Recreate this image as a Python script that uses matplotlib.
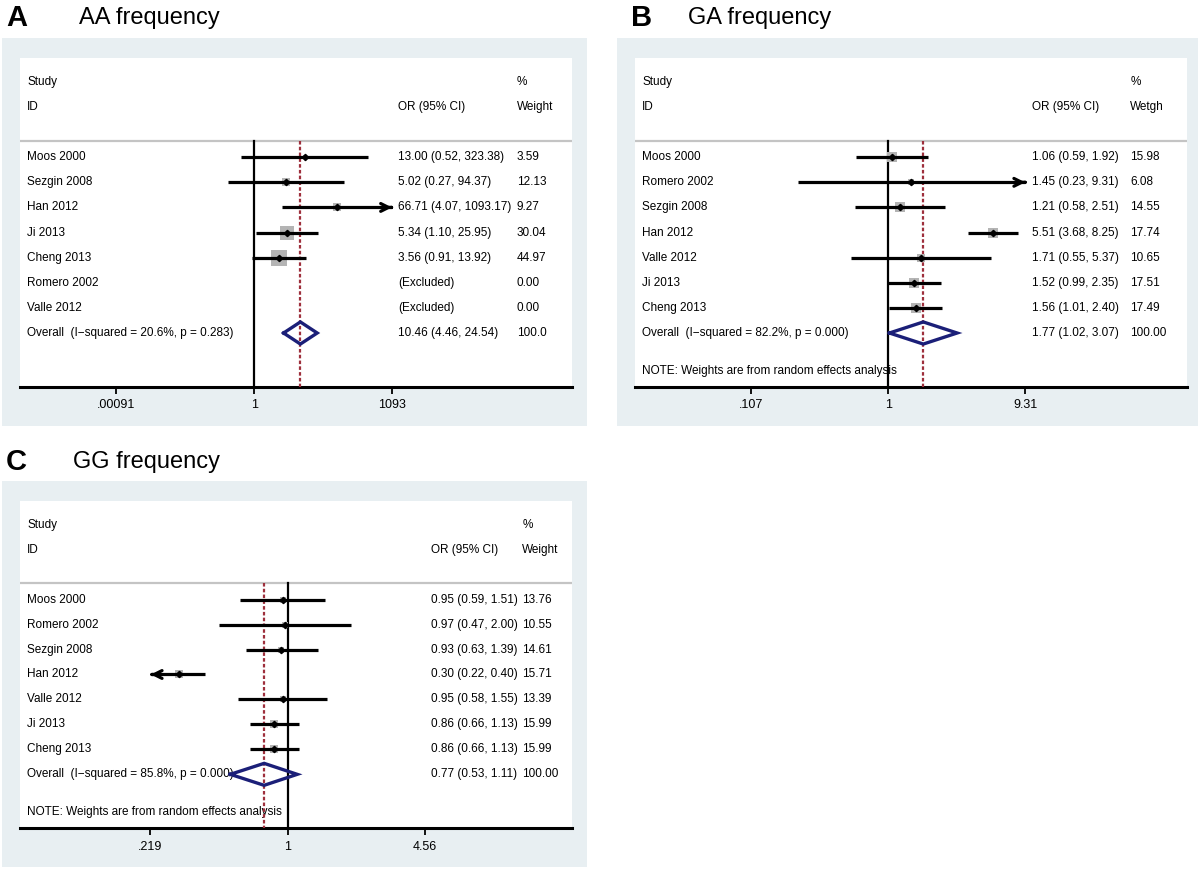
import numpy as np
import matplotlib.pyplot as plt
from matplotlib.patches import Rectangle

plt.rcParams['font.family'] = ['Liberation Sans', 'DejaVu Sans']

# ---- data -------------------------------------------------------------
# Panel A: AA frequency
aa_studies = ["Moos 2000", "Sezgin 2008", "Han 2012", "Ji 2013", "Cheng 2013",
              "Romero 2002", "Valle 2012"]
aa_or = [13.00, 5.02, 66.71, 5.34, 3.56, None, None]
aa_lo = [0.52, 0.27, 4.07, 1.10, 0.91, None, None]
aa_hi = [323.38, 94.37, 1093.17, 25.95, 13.92, None, None]
aa_weight = [3.59, 12.13, 9.27, 30.04, 44.97, 0.00, 0.00]
aa_overall = (10.46, 4.46, 24.54)
aa_overall_label = "Overall  (I\u2212squared = 20.6%, p = 0.283)"
aa_overall_weight = "100.0"
aa_ticks = [0.00091, 1, 1093]
aa_ticklabels = [".00091", "1", "1093"]

# Panel B: GA frequency
ga_studies = ["Moos 2000", "Romero 2002", "Sezgin 2008", "Han 2012", "Valle 2012",
              "Ji 2013", "Cheng 2013"]
ga_or = [1.06, 1.45, 1.21, 5.51, 1.71, 1.52, 1.56]
ga_lo = [0.59, 0.23, 0.58, 3.68, 0.55, 0.99, 1.01]
ga_hi = [1.92, 9.31, 2.51, 8.25, 5.37, 2.35, 2.40]
ga_weight = [15.98, 6.08, 14.55, 17.74, 10.65, 17.51, 17.49]
ga_overall = (1.77, 1.02, 3.07)
ga_overall_label = "Overall  (I\u2212squared = 82.2%, p = 0.000)"
ga_overall_weight = "100.00"
ga_ticks = [0.107, 1, 9.31]
ga_ticklabels = [".107", "1", "9.31"]

# Panel C: GG frequency
gg_studies = ["Moos 2000", "Romero 2002", "Sezgin 2008", "Han 2012", "Valle 2012",
              "Ji 2013", "Cheng 2013"]
gg_or = [0.95, 0.97, 0.93, 0.30, 0.95, 0.86, 0.86]
gg_lo = [0.59, 0.47, 0.63, 0.22, 0.58, 0.66, 0.66]
gg_hi = [1.51, 2.00, 1.39, 0.40, 1.55, 1.13, 1.13]
gg_weight = [13.76, 10.55, 14.61, 15.71, 13.39, 15.99, 15.99]
gg_overall = (0.77, 0.53, 1.11)
gg_overall_label = "Overall  (I\u2212squared = 85.8%, p = 0.000)"
gg_overall_weight = "100.00"
gg_ticks = [0.219, 1, 4.56]
gg_ticklabels = [".219", "1", "4.56"]

NOTE = "NOTE: Weights are from random effects analysis"

# ---- figure -----------------------------------------------------------
W, H = 1200, 869
fig = plt.figure(figsize=(W / 100, H / 100), dpi=100, facecolor='white')

BG = '#e8eff2'
NAVY = '#1b1f78'
RED = '#9e2f3c'
FS = 8.5


def px_rect(x0, y0, x1, y1):
    # pixel box (top-left origin) -> figure fraction [l, b, w, h]
    return [x0 / W, 1 - y1 / H, (x1 - x0) / W, (y1 - y0) / H]


def forest(box, bg, letter_xy, title_xy, letter, title, studies, ors, los, his,
           weights, overall, overall_label, overall_weight, ticks, ticklabels,
           tick_fracs, or_col, wt_col, wt_head, box_k, note=None):
    l, b, w, h = px_rect(*bg)
    fig.patches.append(Rectangle((l, b), w, h, transform=fig.transFigure,
                                 facecolor=BG, edgecolor='none', zorder=-10))
    fig.text(letter_xy[0] / W, 1 - letter_xy[1] / H, letter, fontsize=21,
             fontweight='bold', va='center', ha='left')
    fig.text(title_xy[0] / W, 1 - title_xy[1] / H, title, fontsize=17,
             va='center', ha='left')

    ax = fig.add_axes(px_rect(*box))
    ax.set_zorder(1)
    ax.set_facecolor('white')
    ax.set_xscale('log')
    # x limits so that outer ticks land on the wanted axes fractions
    L, Hh = np.log(ticks[0]), np.log(ticks[-1])
    u = (Hh - L) / (tick_fracs[1] - tick_fracs[0])
    ax.set_xlim(np.exp(L - tick_fracs[0] * u), np.exp(Hh + (1 - tick_fracs[1]) * u))
    ax.set_ylim(9.15, -3.95)
    for s in ['top', 'left', 'right']:
        ax.spines[s].set_visible(False)
    ax.spines['bottom'].set_linewidth(2.2)
    ax.set_yticks([])
    ax.set_xticks(ticks)
    ax.set_xticklabels(ticklabels)
    ax.minorticks_off()
    ax.tick_params(axis='x', length=5, width=1.3, labelsize=FS + 0.5, pad=4)

    tr = ax.get_yaxis_transform()  # x in axes fraction, y in data
    ax.text(0.013, -3, "Study", transform=tr, fontsize=FS, va='center')
    ax.text(0.013, -2, "ID", transform=tr, fontsize=FS, va='center')
    ax.text(or_col, -2, "OR (95% CI)", transform=tr, fontsize=FS, va='center')
    ax.text(wt_col, -3, "%", transform=tr, fontsize=FS, va='center')
    ax.text(wt_col, -2, wt_head, transform=tr, fontsize=FS, va='center')
    ax.axhline(-0.66, color='#c4c4c4', lw=1.6)

    ax.plot([1, 1], [-0.66, 9.15], color='black', lw=1.6, zorder=3)
    ax.plot([overall[0]] * 2, [-0.66, 9.15], color=RED, lw=1.6,
            ls=(0, (1.6, 1.0)), zorder=4)

    for i, name in enumerate(studies):
        ax.text(0.013, i, name, transform=tr, fontsize=FS, va='center')
        ax.text(wt_col, i, f"{weights[i]:.2f}", transform=tr, fontsize=FS, va='center')
        if ors[i] is None:
            ax.text(or_col, i, "(Excluded)", transform=tr, fontsize=FS, va='center')
            continue
        ax.text(or_col, i, f"{ors[i]:.2f} ({los[i]:.2f}, {his[i]:.2f})",
                transform=tr, fontsize=FS, va='center')
        side = box_k * np.sqrt(weights[i]) * 0.72
        ax.scatter([ors[i]], [i], marker='s', s=side ** 2, color='#b4b4b4',
                   linewidths=0, zorder=5)
        lo = max(los[i], ticks[0])
        hi = min(his[i], ticks[-1])
        left_arrow = los[i] <= ticks[0] * 1.01
        right_arrow = his[i] >= ticks[-1] * 0.99
        ax.plot([lo, hi], [i, i], color='black', lw=2.3, zorder=6,
                solid_capstyle='butt')
        if right_arrow:
            ax.annotate('', xy=(hi, i), xytext=(hi / 1.05, i),
                        arrowprops=dict(arrowstyle='->', lw=2.3, color='black',
                                        mutation_scale=14), zorder=6)
        if left_arrow:
            ax.annotate('', xy=(lo, i), xytext=(lo * 1.05, i),
                        arrowprops=dict(arrowstyle='->', lw=2.3, color='black',
                                        mutation_scale=14), zorder=6)
        ax.plot([ors[i]], [i], marker='D', ms=3.2, color='black', zorder=7)

    n = len(studies)
    ax.text(0.013, n, overall_label, transform=tr, fontsize=FS, va='center')
    ax.text(or_col, n, f"{overall[0]:.2f} ({overall[1]:.2f}, {overall[2]:.2f})",
            transform=tr, fontsize=FS, va='center')
    ax.text(wt_col, n, overall_weight, transform=tr, fontsize=FS, va='center')
    ax.plot([overall[1], overall[0], overall[2], overall[0], overall[1]],
            [n, n - 0.44, n, n + 0.44, n], color=NAVY, lw=2.4, zorder=8,
            solid_joinstyle='miter')
    if note:
        ax.text(0.013, n + 1.52, note, transform=tr, fontsize=FS, va='center')
    return ax


forest((20, 58, 572, 387), (2, 38, 587, 426), (6, 18), (79, 18), "A", "AA frequency",
       aa_studies, aa_or, aa_lo, aa_hi, aa_weight, aa_overall, aa_overall_label,
       aa_overall_weight, aa_ticks, aa_ticklabels, (0.174, 0.674), 0.685, 0.900,
       "Weight", 2.5)

forest((635, 58, 1187, 387), (617, 38, 1198, 426), (631, 18), (688, 18), "B",
       "GA frequency", ga_studies, ga_or, ga_lo, ga_hi, ga_weight, ga_overall,
       ga_overall_label, ga_overall_weight, ga_ticks, ga_ticklabels, (0.210, 0.707),
       0.720, 0.897, "Wetgh", 2.4, note=NOTE)

forest((20, 501, 572, 828), (2, 481, 587, 867), (6, 462), (73, 462), "C",
       "GG frequency", gg_studies, gg_or, gg_lo, gg_hi, gg_weight, gg_overall,
       gg_overall_label, gg_overall_weight, gg_ticks, gg_ticklabels, (0.236, 0.734),
       0.745, 0.910, "Weight", 1.8, note=NOTE)

plt.savefig('out.png', dpi=100, facecolor='white')
